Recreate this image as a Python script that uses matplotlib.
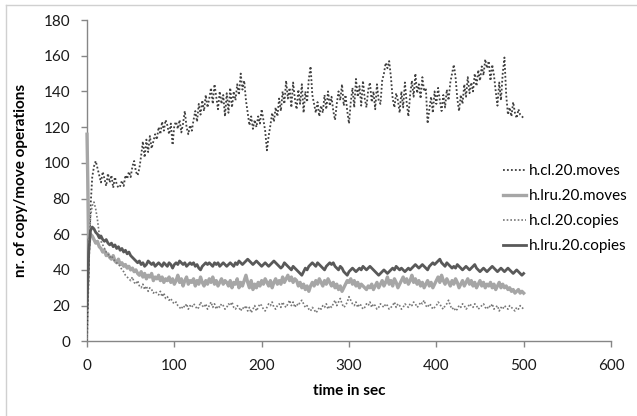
import numpy as np
import matplotlib
matplotlib.use("Agg")
import matplotlib.pyplot as plt
from matplotlib.lines import Line2D

plt.rcParams['font.family'] = ['Lato', 'DejaVu Sans']

# time axis (seconds), one sample every 2 s
time_sec = np.arange(0, 501, 2)

cl_moves = [
    0, 40, 75, 92, 98, 101, 97, 93, 89, 95,
    91, 87, 94, 89, 93, 86, 92, 88, 86, 87,
    90, 87, 93, 91, 95, 92, 98, 101, 95, 93,
    97, 104, 112, 103, 113, 106, 115, 108, 112, 116,
    113, 120, 116, 123, 118, 124, 121, 116, 122, 110,
    121, 123, 119, 124, 117, 122, 129, 120, 116, 121,
    118, 124, 129, 123, 133, 127, 135, 129, 138, 131,
    136, 142, 133, 144, 137, 130, 140, 133, 138, 126,
    139, 128, 142, 131, 140, 135, 144, 138, 150, 141,
    146, 135, 128, 121, 126, 119, 124, 120, 126, 122,
    130, 124, 118, 107, 115, 121, 128, 123, 131, 126,
    136, 129, 140, 133, 146, 136, 142, 131, 145, 136,
    130, 141, 133, 144, 128, 140, 134, 147, 154, 138,
    133, 128, 134, 126, 132, 128, 138, 130, 140, 132,
    137, 129, 124, 133, 140, 135, 144, 132, 138, 129,
    122, 134, 142, 131, 147, 137, 143, 132, 146, 136,
    131, 141, 145, 134, 140, 130, 144, 135, 133, 146,
    150, 156, 153, 157, 148, 136, 131, 139, 135, 128,
    140, 131, 145, 134, 126, 138, 146, 137, 150, 139,
    144, 136, 148, 140, 142, 122, 130, 137, 128, 140,
    133, 142, 135, 129, 138, 131, 141, 135, 145, 150,
    155, 148, 136, 129, 138, 133, 144, 137, 148, 139,
    145, 140, 150, 143, 152, 146, 154, 149, 158, 153,
    157, 146, 155, 149, 140, 132, 145, 135, 150, 159,
    138, 127, 131, 126, 134, 128, 125, 130, 127, 126,
    125,
]

lru_moves = [
    116, 58, 60, 59, 57, 55, 56, 53, 52, 50,
    51, 48, 49, 47, 46, 48, 45, 44, 46, 43,
    44, 42, 43, 41, 42, 40, 41, 39, 40, 38,
    37, 39, 36, 38, 35, 37, 36, 38, 34, 36,
    35, 37, 34, 36, 33, 35, 34, 36, 33, 35,
    32, 34, 37, 33, 35, 31, 34, 36, 32, 34,
    33, 35, 31, 34, 32, 36, 33, 31, 34, 32,
    35, 33, 36, 32, 34, 31, 33, 35, 32, 34,
    33, 31, 34, 30, 33, 32, 35, 30, 33, 31,
    34, 37, 33, 30, 34, 29, 32, 30, 33, 31,
    34, 32, 35, 33, 31, 34, 30, 33, 35, 32,
    34, 32, 36, 33, 35, 37, 34, 36, 33, 35,
    34, 31, 33, 30, 32, 29, 31, 28, 31, 33,
    31, 34, 32, 35, 33, 31, 34, 32, 35, 33,
    31, 33, 30, 32, 29, 31, 28, 30, 32, 34,
    33, 35, 32, 34, 31, 33, 30, 32, 31, 30,
    29, 31, 30, 32, 29, 31, 33, 30, 32, 34,
    31, 33, 36, 32, 34, 31, 35, 33, 30, 32,
    34, 36, 33, 35, 32, 34, 37, 33, 35, 32,
    34, 31, 33, 30, 32, 34, 31, 33, 30, 32,
    34, 36, 33, 37, 34, 32, 35, 33, 31, 34,
    32, 35, 33, 30, 32, 34, 31, 33, 35, 32,
    34, 31, 33, 30, 32, 34, 31, 33, 30, 32,
    31, 33, 30, 32, 29, 31, 33, 30, 32, 30,
    31, 29, 30, 28, 29, 27, 28, 29, 27, 28,
    27,
]

cl_copies = [
    0, 45, 70, 76, 78, 74, 68, 60, 56, 54,
    52, 50, 49, 47, 48, 46, 45, 44, 43, 42,
    40, 39, 37, 36, 35, 34, 36, 33, 32, 34,
    31, 30, 32, 29, 31, 28, 30, 29, 27, 28,
    27, 26, 28, 25, 27, 24, 25, 23, 24, 22,
    21, 22, 20, 19, 18, 20, 19, 21, 18, 20,
    19, 21, 20, 18, 19, 22, 20, 19, 21, 18,
    20, 22, 19, 21, 18, 20, 19, 21, 20, 18,
    19, 21, 20, 22, 19, 18, 20, 19, 17, 19,
    18, 20, 17, 19, 16, 18, 20, 17, 19, 21,
    20, 18, 17, 19, 21, 20, 22, 19, 18, 20,
    21, 19, 22, 20, 19, 21, 23, 20, 22, 19,
    21, 20, 22, 23, 21, 19, 20, 18, 17, 19,
    18, 16, 17, 19, 18, 20, 19, 21, 18, 20,
    19, 21, 23, 20, 22, 24, 21, 19, 20, 22,
    25, 23, 21, 20, 22, 19, 21, 20, 18, 19,
    21, 20, 22, 19, 21, 20, 18, 19, 21, 20,
    19, 21, 20, 18, 19, 20, 22, 19, 21, 20,
    18, 19, 21, 20, 19, 21, 20, 22, 21, 19,
    20, 22, 21, 23, 20, 19, 21, 20, 18, 19,
    20, 22, 21, 19, 18, 20, 21, 23, 20, 18,
    19, 17, 18, 20, 19, 21, 20, 18, 19, 21,
    20, 19, 21, 20, 18, 19, 20, 21, 19, 18,
    20, 19, 21, 18, 19, 20, 17, 19, 18, 20,
    19, 18, 20, 19, 18, 17, 19, 18, 20, 19,
    18,
]

lru_copies = [
    19, 50, 62, 64, 63, 61, 60, 58, 59, 57,
    56, 57, 55, 54, 55, 53, 54, 52, 53, 51,
    52, 50, 51, 49, 50, 48, 47, 46, 45, 44,
    45, 43, 44, 42, 43, 45, 44, 43, 44, 42,
    43, 44, 43, 42, 44, 43, 42, 44, 43, 41,
    43, 44, 43, 45, 44, 43, 44, 42, 43, 44,
    43, 44, 42, 43, 41, 40, 42, 43, 44, 43,
    44, 43, 42, 44, 43, 44, 42, 43, 44, 43,
    42, 43, 44, 43, 42, 44, 43, 45, 44, 43,
    44, 45, 46, 45, 44, 43, 44, 45, 44, 43,
    42, 43, 44, 43, 42, 43, 44, 45, 44, 43,
    42, 41, 42, 44, 43, 42, 41, 40, 42, 41,
    40, 39, 38, 37, 39, 41, 40, 42, 43, 44,
    43, 42, 44, 43, 42, 41, 40, 42, 43, 44,
    43, 44, 42, 41, 40, 42, 41, 39, 38, 37,
    39, 40, 41, 40, 39, 40, 41, 40, 42, 41,
    40, 41, 42, 41, 40, 39, 38, 37, 38, 39,
    40, 39, 38, 39, 40, 41, 40, 42, 41, 40,
    41, 40, 39, 40, 41, 40, 41, 42, 43, 42,
    41, 42, 43, 42, 41, 40, 42, 43, 44, 43,
    44, 45, 46, 44, 43, 42, 44, 43, 42, 41,
    42, 41, 43, 42, 41, 40, 41, 42, 41, 40,
    41, 42, 43, 41, 40, 39, 40, 41, 40, 39,
    40, 41, 42, 41, 40, 39, 40, 41, 40, 39,
    40, 41, 40, 39, 38, 39, 40, 39, 38, 37,
    38,
]

series_labels = ["h.cl.20.moves", "h.lru.20.moves", "h.cl.20.copies", "h.lru.20.copies"]
x_ticks = [0, 100, 200, 300, 400, 500, 600]
y_ticks = [0, 20, 40, 60, 80, 100, 120, 140, 160, 180]

W, H = 637, 416
fig = plt.figure(figsize=(W / 100, H / 100), dpi=100)
fig.patch.set_facecolor('white')

# chart-area border (left & top visible in reference)
fig.add_artist(Line2D([6 / W, 6 / W], [0, 1 - 5 / H], color='#d0d0d0', lw=1.0))
fig.add_artist(Line2D([6 / W, 1], [1 - 5 / H, 1 - 5 / H], color='#d0d0d0', lw=1.0))

left, right = 87.0, 611.0
top, bottom = 20.0, 341.3
ax = fig.add_axes([left / W, 1 - bottom / H, (right - left) / W, (bottom - top) / H])

dot = (0, (1.0, 1.2))
ax.plot(time_sec, cl_moves, color='#3f3f3f', lw=1.3, linestyle=dot, label=series_labels[0], zorder=2)
ax.plot(time_sec, lru_moves, color='#a6a6a6', lw=2.4, label=series_labels[1], zorder=3, clip_on=False)
ax.plot(time_sec, cl_copies, color='#777777', lw=1.2, linestyle=dot, label=series_labels[2], zorder=4)
ax.plot(time_sec, lru_copies, color='#595959', lw=2.0, label=series_labels[3], zorder=5)

ax.set_xlim(0, 600)
ax.set_ylim(0, 180)
ax.set_xticks(x_ticks)
ax.set_yticks(y_ticks)
for s in ['top', 'right']:
    ax.spines[s].set_visible(False)
for s in ['left', 'bottom']:
    ax.spines[s].set_color('#868686')
    ax.spines[s].set_linewidth(1.0)
    ax.spines[s].set_zorder(1)
ax.tick_params(axis='both', direction='out', length=4, width=1.0, color='#868686',
               labelsize=11, labelcolor='#1a1a1a')
ax.tick_params(axis='y', pad=8)
ax.tick_params(axis='x', pad=9)

ax.set_xlabel('time in sec', fontsize=11, fontweight='bold', labelpad=8)
ax.set_ylabel('nr. of copy/move operations', fontsize=11, fontweight='bold', labelpad=11)

leg = ax.legend(loc='upper left', bbox_to_anchor=(503 / W, 1 - 164 / H),
                bbox_transform=fig.transFigure, frameon=False, fontsize=11,
                handlelength=1.5, handletextpad=0.2, labelspacing=0.72,
                borderaxespad=0, borderpad=0)

fig.savefig('out.png', dpi=100, facecolor='white')
